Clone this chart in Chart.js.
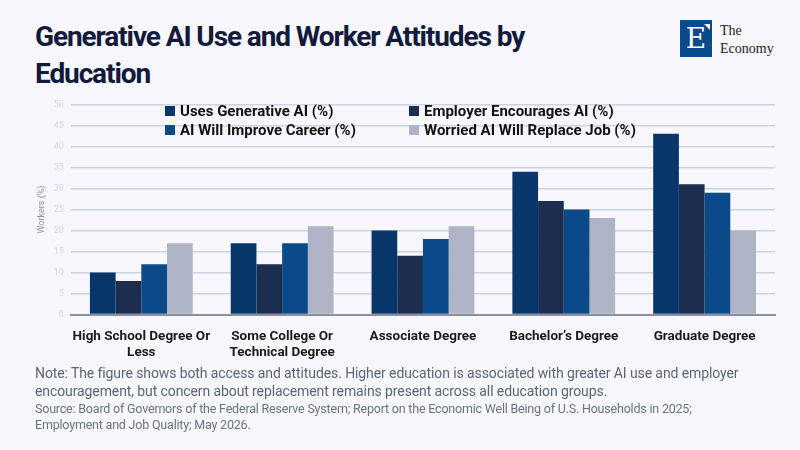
<!DOCTYPE html>
<html>
<head>
<meta charset="utf-8">
<script src="https://cdn.jsdelivr.net/npm/chart.js"></script>
<style>
  body { margin: 0; background: #f7f7fd; }
  #wrap { position: relative; width: 800px; height: 450px; overflow: hidden; background: #f7f7fd; font-family: Roboto, sans-serif; }
  #title { position: absolute; left: 35px; top: 18px; width: 600px; font: bold 28px/37px Roboto, sans-serif; letter-spacing: -1.1px; color: #111a3a; }
  #logo { position: absolute; left: 680px; top: 20px; }
  #logo .box { position: absolute; left: 0; top: 0; width: 32px; height: 37px; background: #0b4a88; color: #fff; font: 28px/37px "DejaVu Serif", serif; text-align: center; }
  #logo .tri { position: absolute; left: 24px; top: 4px; width: 0; height: 0; border-left: 6px solid transparent; border-top: 6px solid #fff; }
  #logo .txt { position: absolute; left: 40px; top: 2px; font: 14px/18px "Liberation Serif", "DejaVu Serif", serif; color: #222; white-space: nowrap; }
  #legend { position: absolute; left: 165px; top: 102px; font: bold 15px Roboto, sans-serif; color: #111; }
  #legend .item { position: absolute; white-space: nowrap; }
  #legend .sw { display: inline-block; width: 10px; height: 10px; margin-right: 5px; vertical-align: 0px; }
  #chartbox { position: absolute; left: 0; top: 92px; width: 800px; height: 275px; }
  #note { position: absolute; left: 35px; top: 364px; width: 750px; font: 14px/18px Roboto, sans-serif; letter-spacing: -0.1px; color: #5d6478; }
  #source { position: absolute; left: 35px; top: 401px; width: 690px; font: 12.5px/16px Roboto, sans-serif; letter-spacing: -0.2px; color: #6b7184; }
</style>
</head>
<body>
<div id="wrap">
  <div id="title">Generative AI Use and Worker Attitudes by Education</div>
  <div id="logo">
    <div class="box">E</div><div class="tri"></div>
    <div class="txt">The<br>Economy</div>
  </div>
  <div id="chartbox"><canvas id="eduChart"></canvas></div>
  <div id="legend"></div>
  <div id="note">Note: The figure shows both access and attitudes. Higher education is associated with greater AI use and employer encouragement, but concern about replacement remains present across all education groups.</div>
  <div id="source">Source: Board of Governors of the Federal Reserve System; Report on the Economic Well Being of U.S. Households in 2025; Employment and Job Quality; May 2026.</div>
</div>
<script>
// categories and series
var categories = [["High School Degree Or", "Less"], ["Some College Or", "Technical Degree"], "Associate Degree", "Bachelor\u2019s Degree", "Graduate Degree"];
var seriesNames = ["Uses Generative AI (%)", "Employer Encourages AI (%)", "AI Will Improve Career (%)", "Worried AI Will Replace Job (%)"];
var usesAI = [10, 17, 20, 34, 43];
var employerEncourages = [8, 12, 14, 27, 31];
var improveCareer = [12, 17, 18, 25, 29];
var worriedReplace = [17, 21, 21, 23, 20];
var yTicks = [0, 5, 10, 15, 20, 25, 30, 35, 40, 45, 50];

var colors = ['#08356a', '#1c2d50', '#0b4a88', '#aeb4c6'];
var seriesData = [usesAI, employerEncourages, improveCareer, worriedReplace];

var datasets = seriesNames.map(function (name, i) {
    return {
        label: name,
        data: seriesData[i],
        backgroundColor: colors[i],
        borderWidth: 0,
        categoryPercentage: 0.73,
        barPercentage: 1.0
    };
});

// legend as html, 2 columns
var legendPos = [[0, 0], [244, 0], [0, 19], [244, 19]];
var legend = document.getElementById('legend');
seriesNames.forEach(function (name, i) {
    var el = document.createElement('div');
    el.className = 'item';
    el.style.left = legendPos[i][0] + 'px';
    el.style.top = legendPos[i][1] + 'px';
    el.innerHTML = '<span class="sw" style="background:' + colors[i] + '"></span>' + name;
    legend.appendChild(el);
});

var ctx = document.getElementById('eduChart');
var eduChart = new Chart(ctx, {
    type: 'bar',
    data: {
        labels: categories,
        datasets: datasets
    },
    options: {
        responsive: true,
        maintainAspectRatio: false,
        animation: false,
        layout: { padding: { top: 3, right: 25, left: 36, bottom: 0 } },
        plugins: {
            legend: { display: false },
            tooltip: { enabled: false }
        },
        scales: {
            x: {
                grid: { display: false },
                border: { color: '#8a8fa6', width: 2 },
                ticks: {
                    color: '#1a1a1a',
                    font: { family: 'Roboto, sans-serif', size: 13.5, weight: 'bold' },
                    maxRotation: 0,
                    autoSkip: false,
                    padding: 6
                }
            },
            y: {
                min: 0,
                max: 50,
                afterBuildTicks: function (axis) {
                    axis.ticks = yTicks.map(function (v) { return { value: v }; });
                },
                grid: { color: '#ccd4e2', lineWidth: 1.5, drawTicks: false },
                border: { display: false },
                ticks: {
                    color: '#d0d7e4',
                    font: { family: 'Roboto, sans-serif', size: 9 },
                    padding: 7
                },
                title: {
                    display: true,
                    text: 'Workers (%)',
                    color: '#8d93a8',
                    font: { family: 'Roboto, sans-serif', size: 9 },
                    padding: 0
                }
            }
        }
    }
});
</script>
</body>
</html>
